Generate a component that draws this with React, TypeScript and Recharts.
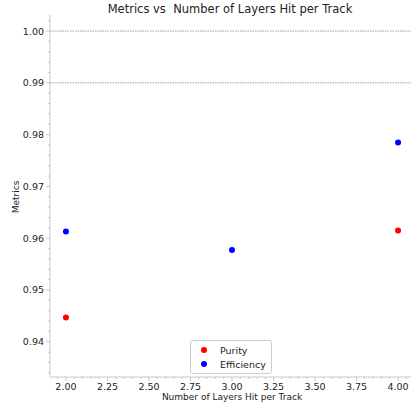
import React from "react";
import {
  ScatterChart,
  Scatter,
  XAxis,
  YAxis,
  ReferenceLine,
} from "recharts";

const layers = [2, 3, 4];
const purity = [0.9447, null, 0.9615];
const efficiency = [0.9613, 0.9577, 0.9785];

const xMajor = [2.0, 2.25, 2.5, 2.75, 3.0, 3.25, 3.5, 3.75, 4.0];
const yMajor = [0.94, 0.95, 0.96, 0.97, 0.98, 0.99, 1.0];
const refLines = [1.0, 0.99];

// minor ticks every 0.05 on x, every 0.002 on y
const xTicks: number[] = [];
for (let i = 39; i <= 81; i++) xTicks.push(i / 20);
const yTicks: number[] = [];
for (let i = 467; i <= 501; i++) yTicks.push(i / 500);

const isMajor = (v: number, majors: number[]) =>
  majors.some((m) => Math.abs(m - v) < 1e-6);

const FONT = "DejaVu Sans, sans-serif";
const SPINE = "#c8c8c8";
const XDOM: [number, number] = [1.904, 4.078];
const YDOM: [number, number] = [0.9332, 1.0031];

const purityData = layers
  .map((x, i) => ({ x, y: purity[i] }))
  .filter((d) => d.y !== null);
const efficiencyData = layers.map((x, i) => ({ x, y: efficiency[i] }));

const dot = (color: string) => (props: any) =>
  <circle cx={props.cx} cy={props.cy} r={3} fill={color} />;

const XTick = (props: any) => {
  const { x, payload } = props;
  const major = isMajor(payload.value, xMajor);
  return (
    <g>
      <line x1={x} x2={x} y1={377} y2={377 + (major ? 4 : 2)} stroke={SPINE} />
      {major && (
        <text
          x={x}
          y={390}
          textAnchor="middle"
          style={{ fontFamily: FONT, fontSize: 9.5, fill: "#222" }}
        >
          {payload.value.toFixed(2)}
        </text>
      )}
    </g>
  );
};

const YTick = (props: any) => {
  const { y, payload } = props;
  const major = isMajor(payload.value, yMajor);
  return (
    <g>
      <line x1={50} x2={50 - (major ? 4 : 2)} y1={y} y2={y} stroke={SPINE} />
      {major && (
        <text
          x={44}
          y={y + 3.5}
          textAnchor="end"
          style={{ fontFamily: FONT, fontSize: 9.5, fill: "#222" }}
        >
          {payload.value.toFixed(2)}
        </text>
      )}
    </g>
  );
};

const LegendBox = () => (
  <div
    style={{
      position: "absolute",
      left: 190,
      top: 340,
      border: "1px solid #cccccc",
      borderRadius: 3,
      background: "#fff",
      padding: "2px 8px 2px 5px",
      fontFamily: FONT,
      fontSize: 9.5,
      color: "#222",
      boxSizing: "border-box",
      width: 82,
    }}
  >
    {[
      ["Purity", "#ff0000"],
      ["Efficiency", "#0000ff"],
    ].map(([name, color]) => (
      <div key={name} style={{ display: "flex", alignItems: "center", height: 14 }}>
        <span
          style={{
            width: 6,
            height: 6,
            borderRadius: 3,
            background: color,
            display: "inline-block",
            flexShrink: 0,
            marginLeft: 5,
            marginRight: 13,
          }}
        />
        {name}
      </div>
    ))}
  </div>
);

export default function App() {
  return (
    <div style={{ position: "absolute", left: 0, top: 0, width: 411, height: 403 }}>
      <ScatterChart
        width={411}
        height={403}
        margin={{ top: 15, right: 0, left: 0, bottom: 0 }}
      >
        <text
          x={230}
          y={13}
          textAnchor="middle"
          style={{ fontFamily: FONT, fontSize: 11.5, fill: "#222", whiteSpace: "pre" }}
        >
          {"Metrics vs  Number of Layers Hit per Track"}
        </text>
        <text
          x={232}
          y={400}
          textAnchor="middle"
          style={{ fontFamily: FONT, fontSize: 9, fill: "#222" }}
        >
          Number of Layers Hit per Track
        </text>
        <text
          x={0}
          y={0}
          transform="translate(19,197) rotate(-90)"
          textAnchor="middle"
          style={{ fontFamily: FONT, fontSize: 9, fill: "#222" }}
        >
          Metrics
        </text>
        <XAxis
          xAxisId="top"
          orientation="top"
          type="number"
          dataKey="x"
          domain={XDOM}
          height={0}
          tick={false}
          tickLine={false}
          axisLine={{ stroke: SPINE }}
        />
        <XAxis
          type="number"
          dataKey="x"
          domain={XDOM}
          ticks={xTicks}
          interval={0}
          allowDataOverflow
          height={26}
          tick={<XTick />}
          tickLine={false}
          axisLine={{ stroke: SPINE }}
        />
        <YAxis
          type="number"
          dataKey="y"
          domain={YDOM}
          ticks={yTicks}
          interval={0}
          allowDataOverflow
          width={50}
          tick={<YTick />}
          tickLine={false}
          axisLine={{ stroke: SPINE }}
        />
        {refLines.map((v) => (
          <ReferenceLine
            key={v}
            y={v}
            stroke="#888"
            strokeDasharray="1.5 1"
            strokeWidth={0.8}
          />
        ))}
        <Scatter
          name="Purity"
          data={purityData}
          fill="#ff0000"
          shape={dot("#ff0000")}
          isAnimationActive={false}
        />
        <Scatter
          name="Efficiency"
          data={efficiencyData}
          fill="#0000ff"
          shape={dot("#0000ff")}
          isAnimationActive={false}
        />
      </ScatterChart>
      <LegendBox />
    </div>
  );
}
